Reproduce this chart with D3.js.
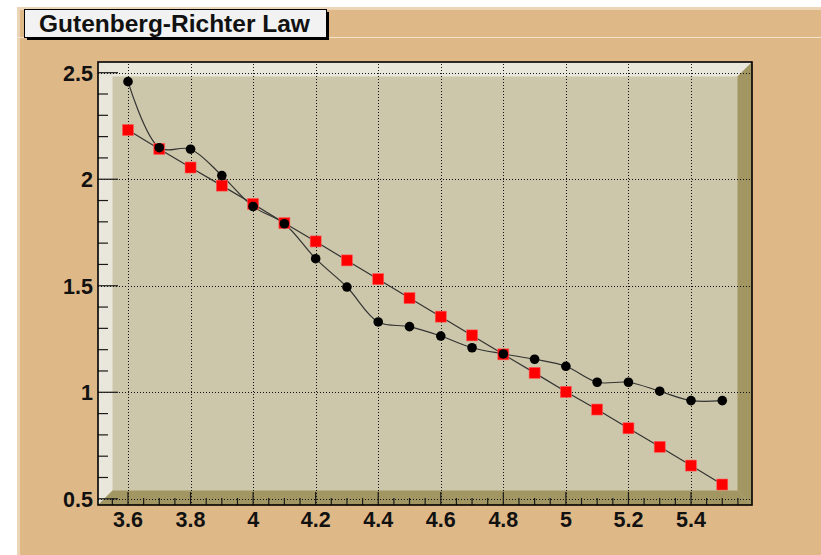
<!DOCTYPE html>
<html>
<head>
<meta charset="utf-8">
<script src="https://cdn.jsdelivr.net/npm/d3@7"></script>
<style>
    html, body { margin: 0; padding: 0; background: #ffffff; }
    svg { display: block; }
    text { font-family: "Liberation Sans", Arial, Helvetica, sans-serif; font-weight: 700; fill: #111111; }
</style>
</head>
<body>
<div id="chart"></div>
<script>
// Magnitude bins (x) and the two series
const magnitudes = [3.6, 3.7, 3.8, 3.9, 4.0, 4.1, 4.2, 4.3, 4.4, 4.5,
                    4.6, 4.7, 4.8, 4.9, 5.0, 5.1, 5.2, 5.3, 5.4, 5.5];
const measured = [2.458, 2.148, 2.141, 2.017, 1.872, 1.791, 1.627, 1.494, 1.330, 1.308,
                  1.264, 1.209, 1.180, 1.155, 1.122, 1.047, 1.047, 1.005, 0.961, 0.961];
const fitted = [2.231, 2.142, 2.055, 1.970, 1.884, 1.794, 1.708, 1.619, 1.531, 1.442,
                1.355, 1.267, 1.178, 1.091, 1.002, 0.919, 0.831, 0.744, 0.656, 0.567];
const xTicks = [3.6, 3.8, 4.0, 4.2, 4.4, 4.6, 4.8, 5.0, 5.2, 5.4];
const yTicks = [0.5, 1, 1.5, 2, 2.5];
const titleText = 'Gutenberg-Richter Law';

const width = 821;
const height = 555;

// ROOT-like frame geometry
const frame = { left: 98, right: 752, top: 62, bottom: 505 };
const bevel = 14.5;

const x = d3.scaleLinear().domain([3.6, 5.4]).range([128, 691]);
const y = d3.scaleLinear().domain([0.5, 2.5]).range([498.8, 72.7]);

const svg = d3.select('#chart')
    .append('svg')
    .attr('width', width)
    .attr('height', height);

// Canvas background with thin lighter border
svg.append('rect').attr('x', 17).attr('y', 7).attr('width', width - 17).attr('height', height - 7)
    .attr('fill', '#ecd5b6');
svg.append('rect').attr('x', 20).attr('y', 10).attr('width', width - 20).attr('height', height - 10)
    .attr('fill', '#dfb887');
svg.append('line').attr('x1', 17).attr('x2', width).attr('y1', 37.5).attr('y2', 37.5)
    .attr('stroke', '#f3e2cb').attr('stroke-width', 1);

// Frame face and bevels
const fL = frame.left, fR = frame.right, fT = frame.top, fB = frame.bottom;
svg.append('rect').attr('x', fL).attr('y', fT).attr('width', fR - fL).attr('height', fB - fT)
    .attr('fill', '#ccc7aa');
const poly = (pts, fill) => svg.append('polygon')
    .attr('points', pts.map((p) => p.join(',')).join(' '))
    .attr('fill', fill);
poly([[fL, fT], [fR, fT], [fR - bevel, fT + bevel], [fL + bevel, fT + bevel]], '#e9e7db');
poly([[fL, fT], [fL + bevel, fT + bevel], [fL + bevel, fB - bevel], [fL, fB]], '#e9e7db');
poly([[fR, fT], [fR, fB], [fR - bevel, fB - bevel], [fR - bevel, fT + bevel]], '#a29662');
poly([[fL, fB], [fR, fB], [fR - bevel, fB - bevel], [fL + bevel, fB - bevel]], '#a29662');

// Dotted grid
const grid = svg.append('g')
    .attr('stroke', '#111111')
    .attr('stroke-width', 1)
    .attr('stroke-dasharray', '1 2');
grid.selectAll('.gx').data(xTicks).join('line')
    .attr('x1', (d) => Math.round(x(d)) + 0.5).attr('x2', (d) => Math.round(x(d)) + 0.5)
    .attr('y1', fT + 2).attr('y2', fB);
grid.selectAll('.gy').data(yTicks).join('line')
    .attr('x1', fL).attr('x2', fR)
    .attr('y1', (d) => Math.round(y(d)) + 0.5).attr('y2', (d) => Math.round(y(d)) + 0.5);

// Ticks
const ticks = svg.append('g').attr('stroke', '#1a1a1a').attr('stroke-width', 1.2);
const xMinor = d3.range(71, 112).map((i) => i * 0.05).filter((v) => x(v) > fL + 1 && x(v) < fR - 1);
ticks.selectAll('.tx').data(xMinor).join('line')
    .attr('x1', (d) => x(d)).attr('x2', (d) => x(d))
    .attr('y1', fB)
    .attr('y2', (d) => fB - (Math.abs(d * 5 - Math.round(d * 5)) < 1e-6 ? 13 : 7));
const yMinor = d3.range(5, 26).map((i) => i * 0.1);
ticks.selectAll('.ty').data(yMinor).join('line')
    .attr('x1', fL)
    .attr('x2', (d) => fL + (Math.abs(d * 2 - Math.round(d * 2)) < 1e-6 ? 20 : 10))
    .attr('y1', (d) => y(d)).attr('y2', (d) => y(d));

// Frame outline
svg.append('rect').attr('x', fL).attr('y', fT).attr('width', fR - fL).attr('height', fB - fT)
    .attr('fill', 'none').attr('stroke', '#000000').attr('stroke-width', 1.6);

// Tick labels
svg.selectAll('.xl').data(xTicks).join('text')
    .attr('x', (d) => x(d)).attr('y', 527)
    .attr('text-anchor', 'middle')
    .attr('font-size', 21.5)
    .text((d) => d3.format('~g')(d));
svg.selectAll('.yl').data(yTicks).join('text')
    .attr('x', 93).attr('y', (d) => y(d) + 8)
    .attr('text-anchor', 'end')
    .attr('font-size', 21.5)
    .text((d) => d3.format('~g')(d));

// Series lines
const fitPts = magnitudes.map((m, i) => [m, fitted[i]]);
const measPts = magnitudes.map((m, i) => [m, measured[i]]);
svg.append('path').datum(fitPts)
    .attr('fill', 'none').attr('stroke', '#333333').attr('stroke-width', 1.2)
    .attr('d', d3.line().x((p) => x(p[0])).y((p) => y(p[1])));
svg.append('path').datum(measPts)
    .attr('fill', 'none').attr('stroke', '#333333').attr('stroke-width', 1.2)
    .attr('d', d3.line().curve(d3.curveCatmullRom.alpha(0.5)).x((p) => x(p[0])).y((p) => y(p[1])));

// Markers: red squares under black dots
svg.selectAll('.sq').data(fitPts).join('rect')
    .attr('x', (p) => x(p[0]) - 5.5).attr('y', (p) => y(p[1]) - 5.5)
    .attr('width', 11).attr('height', 11)
    .attr('fill', '#ff0000').attr('stroke', '#ff5a5a').attr('stroke-width', 0.6);
svg.selectAll('.dot').data(measPts).join('circle')
    .attr('cx', (p) => x(p[0])).attr('cy', (p) => y(p[1]))
    .attr('r', 4.8)
    .attr('fill', '#000000');

// Title box with shadow
svg.append('rect').attr('x', 27).attr('y', 12).attr('width', 302).attr('height', 28).attr('fill', '#000000');
svg.append('rect').attr('x', 24.5).attr('y', 9.5).attr('width', 302).attr('height', 28)
    .attr('fill', '#f2f2f2').attr('stroke', '#000000').attr('stroke-width', 1);
svg.append('text').attr('x', 39).attr('y', 32)
    .attr('font-size', 24.5)
    .text(titleText);
</script>
</body>
</html>
